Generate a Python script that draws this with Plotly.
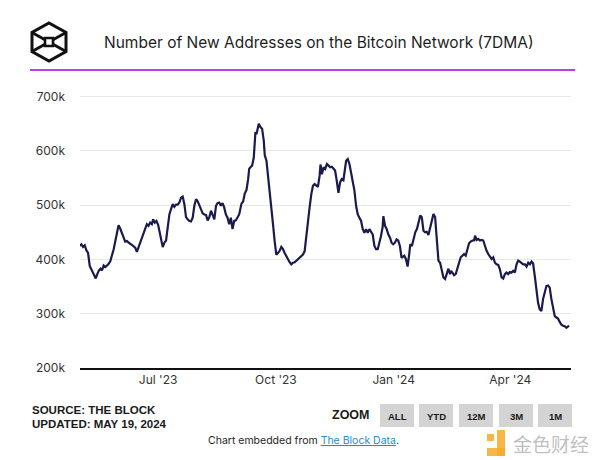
import plotly.graph_objects as go
import pandas as pd

# ---------------- data ----------------
base_date = "2023-05-01"
day_offsets = [
    0.0, 1.1, 2.4, 3.7, 5.0, 6.3, 7.6, 8.9, 10.2, 11.5, 12.3, 13.5, 14.8, 16.1, 17.2, 18.5, 19.8, 21.1,
    22.4, 23.7, 25.0, 26.3, 27.6, 28.9, 30.1, 31.4, 32.7, 34.0, 35.3, 36.6, 37.9, 39.2, 40.5, 41.8,
    43.1, 44.4, 45.7, 47.0, 48.3, 49.6, 50.9, 52.2, 53.5, 54.8, 56.1, 57.1, 58.4, 59.7, 61.0, 62.3,
    63.6, 64.6, 65.9, 67.2, 68.5, 69.8, 71.1, 72.4, 73.7, 75.0, 76.3, 77.6, 78.9, 80.2, 81.5, 82.8,
    84.1, 85.4, 86.7, 88.0, 89.3, 90.6, 91.9, 93.2, 94.5, 95.8, 97.1, 98.4, 99.7, 101.0, 102.3, 103.6,
    104.9, 106.2, 107.4, 108.7, 110.0, 111.3, 112.6, 113.9, 115.2, 116.5, 117.8, 119.1, 120.4, 121.7,
    123.0, 124.3,
    126.1, 127.4, 128.7, 130.0, 131.3, 132.1, 133.1, 134.4, 135.7, 136.5, 137.0, 137.8, 138.6, 139.6,
    140.9, 142.2, 143.5, 144.3, 145.6, 146.8, 148.1, 149.4, 150.7, 152.0, 153.3, 154.6, 155.9, 157.2,
    158.5, 159.8, 161.1, 162.4, 163.7, 165.0, 166.3, 167.6, 168.9, 170.2, 171.5, 172.8, 174.1, 175.4,
    176.7, 178.0, 179.3, 180.6, 181.9, 183.2, 184.5, 185.8, 187.1, 187.8, 188.9, 190.2, 191.5, 192.8,
    194.1, 195.4, 196.7, 197.9, 199.2, 200.5, 201.8, 203.1, 204.4, 205.7, 206.8, 207.8, 209.1, 210.4,
    211.7, 213.0, 214.3, 215.6, 216.9, 218.2, 219.5, 220.8, 222.1, 223.4, 224.7, 226.0, 227.3, 228.6,
    229.9, 231.2, 232.5, 233.7, 235.0, 236.3, 236.9, 238.2, 239.5, 240.8, 242.1, 243.3, 244.6, 245.9,
    247.2, 248.5, 249.8, 251.1, 252.4,
    253.2, 254.5, 255.8, 257.1, 257.9, 259.2, 260.5, 261.8, 263.1, 264.4, 265.7, 266.9, 268.2, 269.5,
    270.8, 272.1, 273.4, 274.7, 276.0, 277.3, 278.6, 279.9, 281.2, 282.5, 283.8, 285.1, 286.4, 287.7,
    289.0, 289.8, 290.8, 292.1, 293.4, 294.7, 296.0, 297.3, 298.6, 299.9, 301.2, 302.5, 303.8, 305.1,
    306.4, 307.7, 308.5, 309.7, 311.0, 312.3, 313.6, 314.9, 316.2, 317.5, 318.8, 320.1, 321.4, 322.7,
    324.0, 325.3, 326.6, 327.9, 329.2, 330.5, 331.8, 333.1, 334.4, 335.7, 337.0, 338.3, 339.6, 340.9,
    342.2, 343.5, 344.8, 346.1, 347.4, 348.7, 350.0, 351.3, 352.6, 353.8, 355.1, 356.4, 357.7, 359.0,
    360.3, 361.6, 362.9, 364.2, 365.5, 366.8, 368.1, 369.4, 370.7, 372.0, 373.3, 374.6, 375.9, 377.2,
    378.5, 379.8, 381.1, 381.9,
]
new_addresses_k = [
    425, 428, 423, 426, 417, 412, 388, 381, 375, 368, 365, 373, 380, 383, 380, 389, 386, 389,
    392, 397, 406, 419, 434, 449, 463, 457, 449, 441, 433, 434, 431, 429, 427, 425,
    422, 414, 423, 431, 441, 448, 456, 465, 462, 468, 465, 474, 468, 471, 464, 448,
    431, 423, 431, 435, 459, 483, 493, 502, 497, 501, 501, 505, 514, 516, 502, 478,
    474, 471, 470, 477, 499, 511, 507, 499, 493, 485, 483, 482, 472, 478, 490, 480,
    474, 499, 504, 505, 499, 504, 496, 483, 477, 465, 477, 456, 471, 472,
    478, 483,
    503, 507, 522, 528, 548, 567, 570, 573, 588, 613, 635, 631, 638, 650,
    644, 641, 619, 592, 582, 551, 523, 492, 465, 434, 409, 412, 416, 423,
    419, 412, 406, 400, 395, 391, 394, 395, 398, 400, 404, 406, 409, 415,
    446, 471, 496, 520, 536, 539, 536, 534, 554, 575, 557, 570, 567, 576,
    573, 570, 571, 567, 564, 545, 523, 542, 548, 546, 564, 582, 585, 576,
    560, 545, 527, 499, 483, 477, 471, 456, 449, 456, 449, 456, 452, 446,
    425, 419, 419, 434, 443, 459, 480, 462, 456, 446, 440, 431, 428, 431,
    437, 435, 425, 403, 406,
    407, 401, 387, 410, 428, 425, 438, 450, 456, 472, 481, 478, 453, 450,
    451, 445, 459, 472, 484, 478, 444, 398, 394, 379, 367, 364, 373, 383,
    373, 379, 376, 371, 373, 385, 394, 404, 407, 410, 407, 420, 430, 433,
    435, 435, 444, 436, 438, 435, 436, 435, 425, 416, 410, 404, 401, 404,
    394, 391, 390, 382, 367, 365, 373, 376, 373, 377, 376, 379, 376, 391,
    398, 396, 393, 391, 391, 387, 394, 391, 396, 393, 370, 345, 320, 308,
    305, 327, 339, 351, 352, 348, 327, 308, 296, 293, 291, 285, 280, 278,
    277, 274, 277, 278,
]
y_tick_values = [200000, 300000, 400000, 500000, 600000, 700000]
y_tick_labels = ["200k", "300k", "400k", "500k", "600k", "700k"]
x_tick_values = ["2023-07-01", "2023-10-01", "2024-01-01", "2024-04-01"]
x_tick_labels = ["Jul '23", "Oct '23", "Jan '24", "Apr '24"]
zoom_buttons = ["ALL", "YTD", "12M", "3M", "1M"]

title_text = "Number of New Addresses on the Bitcoin Network (7DMA)"
source_lines = ["SOURCE: THE BLOCK", "UPDATED: MAY 19, 2024"]

dates = pd.Timestamp(base_date) + pd.to_timedelta(day_offsets, unit="D")
values = [v * 1000 for v in new_addresses_k]

# ---------------- layout helpers ----------------
W, H = 600, 460
ML, MR, MT, MB = 80, 29, 94, 92
PW, PH = W - ML - MR, H - MT - MB


def px(x):
    return (x - ML) / PW


def py(y):
    return 1 - (y - MT) / PH


fig = go.Figure()
fig.add_trace(go.Scatter(
    x=dates, y=values, mode="lines",
    line=dict(color="#1b1a4d", width=2.2),
    hoverinfo="skip", showlegend=False,
))

shapes = []
annotations = []

# header: purple rule
shapes.append(dict(type="line", xref="paper", yref="paper",
                   x0=px(30), x1=px(575), y0=py(70), y1=py(70),
                   line=dict(color="#c03cf0", width=2)))

# logo (cube icon)
cx, cy = 49, 42
hw, hh = 17, 19
hexagon = [(cx, cy - hh), (cx + hw, cy - hh / 2), (cx + hw, cy + hh / 2),
           (cx, cy + hh), (cx - hw, cy + hh / 2), (cx - hw, cy - hh / 2)]
path = "M " + " L ".join(f"{px(a)},{py(b)}" for a, b in hexagon) + " Z"
shapes.append(dict(type="path", xref="paper", yref="paper", path=path,
                   line=dict(color="#111111", width=3)))
for (a, b) in [(hexagon[5], hexagon[2]), (hexagon[1], hexagon[4])]:
    shapes.append(dict(type="line", xref="paper", yref="paper",
                       x0=px(a[0]), y0=py(a[1]), x1=px(b[0]), y1=py(b[1]),
                       line=dict(color="#111111", width=3)))
shapes.append(dict(type="rect", xref="paper", yref="paper",
                   x0=px(cx - 4), x1=px(cx + 4), y0=py(cy - 4), y1=py(cy + 4),
                   fillcolor="white", line=dict(color="#111111", width=2.6)))

annotations.append(dict(text=title_text, xref="paper", yref="paper",
                        x=px(319), y=py(43), xanchor="center", yanchor="middle",
                        showarrow=False, font=dict(family="Inter", size=15.5, color="#1e1e1e")))

# footer
for i, line in enumerate(source_lines):
    annotations.append(dict(text=f"<b>{line}</b>", xref="paper", yref="paper",
                            x=px(30), y=py(410 + 14 * i), xanchor="left", yanchor="middle",
                            showarrow=False,
                            font=dict(family="Liberation Sans", size=11.5, color="#1a1a1a")))

annotations.append(dict(text="<b>ZOOM</b>", xref="paper", yref="paper",
                        x=px(372), y=py(415), xanchor="right", yanchor="middle",
                        showarrow=False,
                        font=dict(family="Liberation Sans", size=12.5, color="#1a1a1a")))

btn_left = [380, 419, 459, 499, 538]
btn_w = 34
for lab, x0 in zip(zoom_buttons, btn_left):
    shapes.append(dict(type="rect", xref="paper", yref="paper",
                       x0=px(x0), x1=px(x0 + btn_w), y0=py(427), y1=py(404),
                       fillcolor="#d4d4d4", line=dict(width=0)))
    annotations.append(dict(text=f"<b>{lab}</b>", xref="paper", yref="paper",
                            x=px(x0 + btn_w / 2), y=py(416), xanchor="center", yanchor="middle",
                            showarrow=False,
                            font=dict(family="Liberation Sans", size=9.5, color="#1a1a1a")))

annotations.append(dict(
    text="Chart embedded from <span style='color:#1a8fc9;text-decoration:underline'>The Block Data</span>.",
    xref="paper", yref="paper", x=px(303), y=py(440), xanchor="center", yanchor="middle",
    showarrow=False, font=dict(family="Inter", size=10.5, color="#1e1e1e")))

# watermark
shapes.append(dict(type="rect", xref="paper", yref="paper",
                   x0=px(487), x1=px(494), y0=py(441), y1=py(434),
                   fillcolor="rgba(245,170,40,0.85)", line=dict(width=0)))
shapes.append(dict(type="rect", xref="paper", yref="paper",
                   x0=px(497), x1=px(505), y0=py(456), y1=py(430),
                   fillcolor="rgba(245,170,40,0.85)", line=dict(width=0)))
shapes.append(dict(type="rect", xref="paper", yref="paper",
                   x0=px(487), x1=px(505), y0=py(456), y1=py(448),
                   fillcolor="rgba(245,170,40,0.85)", line=dict(width=0)))
annotations.append(dict(text="金色财经", xref="paper", yref="paper",
                        x=px(551), y=py(443), xanchor="center", yanchor="middle",
                        showarrow=False,
                        font=dict(family="Noto Sans CJK SC", size=19, color="rgba(170,170,170,0.75)")))

fig.update_layout(
    width=W, height=H,
    margin=dict(l=ML, r=MR, t=MT, b=MB),
    paper_bgcolor="white", plot_bgcolor="white",
    shapes=shapes, annotations=annotations,
    showlegend=False,
    xaxis=dict(
        range=["2023-05-01", "2024-05-18 10:00"],
        tickvals=x_tick_values, ticktext=x_tick_labels,
        showgrid=False, zeroline=False,
        showline=True, linecolor="#111111", linewidth=1.5,
        ticks="", tickfont=dict(family="Inter", size=12, color="#333333"),
    ),
    yaxis=dict(
        range=[200000, 705000],
        tickvals=y_tick_values, ticktext=y_tick_labels,
        showgrid=True, gridcolor="#e8e8e8", gridwidth=1,
        zeroline=False, showline=False,
        ticks="", ticklabelstandoff=14,
        tickfont=dict(family="Inter", size=12, color="#333333"),
    ),
)

fig.write_html("out.html")
